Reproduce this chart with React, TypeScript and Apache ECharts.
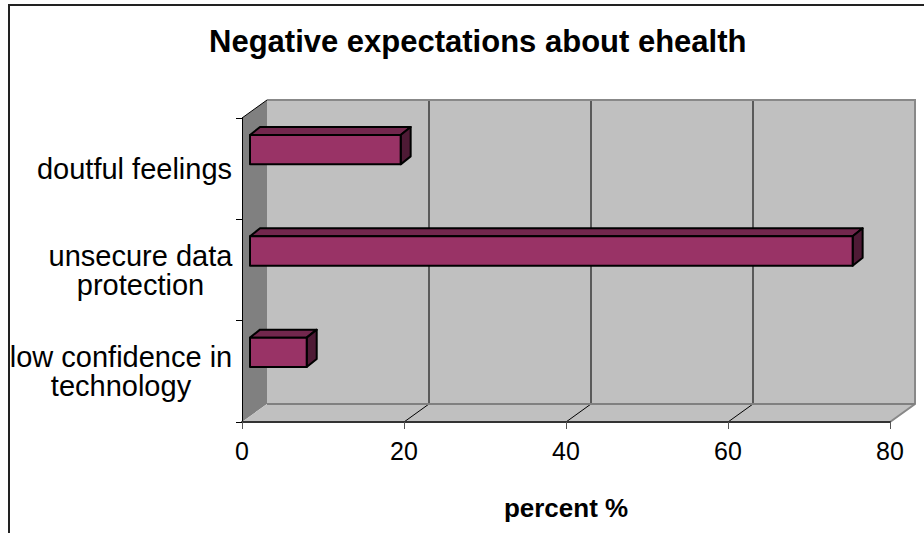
import React, { useEffect, useRef } from "react";
import * as echarts from "echarts";

// ---- data ----
const categories: string[] = [
  "low confidence in\ntechnology",
  "unsecure data\nprotection",
  "doutful feelings",
];
const values: number[] = [7.0, 74.4, 18.6];
const xMin = 0;
const xMax = 80;
const xInterval = 20;
const gridValues: number[] = [20, 40, 60];

const TITLE = "Negative expectations about ehealth";
const X_NAME = "percent %";

// ---- styles ----
const FONT = "'Liberation Sans', Arial, sans-serif";
const LABEL_SIZE = 29;
const TICK_SIZE = 25;
const DX = 25; // wall depth offset
const DY = -18;
const BAR_DX = 8;
const BAR_SHIFT_Y = -19;
const BAR_DEPTH_X = 10;
const BAR_DEPTH_Y = -8;
const BAR_FRAC = 0.29;

function measure(text: string, font: string): number {
  const c = document.createElement("canvas");
  const ctx = c.getContext("2d")!;
  ctx.font = font;
  return ctx.measureText(text).width;
}

export default function App() {
  const ref = useRef<HTMLDivElement>(null);

  useEffect(() => {
    document.body.style.margin = "0";
    if (!ref.current) return;
    const chart = echarts.init(ref.current, undefined, { renderer: "svg" });

    const rich: Record<string, any> = {};
    categories.forEach((c, i) => {
      const w = Math.max(
        ...c.split("\n").map((l) => measure(l, `${LABEL_SIZE}px 'Liberation Sans'`))
      );
      rich["c" + i] = {
        width: Math.ceil(w) + 1,
        align: "center",
        fontSize: LABEL_SIZE,
        fontFamily: FONT,
        color: "#000",
        lineHeight: 29,
      };
    });

    const renderWalls = (params: any, api: any) => {
      const band = api.size([0, 1])[1];
      const [x0, yc0] = api.coord([xMin, 0]);
      const x1 = api.coord([xMax, 0])[0];
      const yTop = api.coord([xMin, categories.length - 1])[1] - band / 2;
      const yBot = yc0 + band / 2;
      const children: any[] = [
        {
          type: "polygon",
          shape: { points: [[x0, yBot], [x0, yTop], [x0 + DX, yTop + DY], [x0 + DX, yBot + DY]] },
          style: { fill: "#808080" },
        },
        {
          type: "polygon",
          shape: { points: [[x0, yBot], [x1, yBot], [x1 + DX, yBot + DY], [x0 + DX, yBot + DY]] },
          style: { fill: "#c0c0c0" },
        },
        {
          type: "rect",
          shape: { x: x0 + DX, y: yTop + DY, width: x1 - x0, height: yBot - yTop },
          style: { fill: "#c0c0c0" },
        },
      ];
      gridValues.forEach((v) => {
        const gx = api.coord([v, 0])[0];
        children.push({
          type: "line",
          shape: { x1: gx + DX, y1: yTop + DY, x2: gx + DX, y2: yBot + DY },
          style: { stroke: "#5a5a5a", lineWidth: 2 },
        });
        children.push({
          type: "line",
          shape: { x1: gx, y1: yBot, x2: gx + DX, y2: yBot + DY },
          style: { stroke: "#000", lineWidth: 1 },
        });
      });
      children.push(
        {
          type: "polyline",
          shape: { points: [[x0 + DX, yTop + DY], [x1 + DX, yTop + DY], [x1 + DX, yBot + DY], [x1, yBot]] },
          style: { stroke: "#888", lineWidth: 2, fill: "none" },
        },
        {
          type: "line",
          shape: { x1: x0 + DX, y1: yBot + DY, x2: x1 + DX, y2: yBot + DY },
          style: { stroke: "#808080", lineWidth: 2 },
        },
        {
          type: "line",
          shape: { x1: x0, y1: yTop, x2: x0 + DX, y2: yTop + DY },
          style: { stroke: "#000", lineWidth: 1 },
        }
      );
      return { type: "group", children };
    };

    const renderBars = (params: any, api: any) => {
      const band = api.size([0, 1])[1];
      const cat = api.value(1);
      const [xs, yc] = api.coord([xMin, cat]);
      const xe = api.coord([api.value(0), cat])[0];
      const h = band * BAR_FRAC;
      const a = xs + BAR_DX;
      const b = xe + BAR_DX;
      const t = yc + BAR_SHIFT_Y - h / 2;
      const bt = t + h;
      const stroke = { stroke: "#000", lineWidth: 2, lineJoin: "round" };
      return {
        type: "group",
        children: [
          {
            type: "polygon",
            shape: { points: [[a, t], [b, t], [b + BAR_DEPTH_X, t + BAR_DEPTH_Y], [a + BAR_DEPTH_X, t + BAR_DEPTH_Y]] },
            style: { fill: "#72274d", ...stroke },
          },
          {
            type: "polygon",
            shape: { points: [[b, t], [b, bt], [b + BAR_DEPTH_X, bt + BAR_DEPTH_Y], [b + BAR_DEPTH_X, t + BAR_DEPTH_Y]] },
            style: { fill: "#4e1a35", ...stroke },
          },
          {
            type: "rect",
            shape: { x: a, y: t, width: b - a, height: h },
            style: { fill: "#993366", ...stroke },
          },
        ],
      };
    };

    chart.setOption({
      animation: false,
      backgroundColor: "#fff",
      title: {
        text: TITLE,
        left: 204,
        top: 21,
        textStyle: { fontFamily: FONT, fontWeight: "bold", fontSize: 31, color: "#000" },
      },
      grid: { left: 242, right: 34, top: 118, bottom: 111, containLabel: false },
      xAxis: {
        type: "value",
        min: xMin,
        max: xMax,
        interval: xInterval,
        z: 5,
        name: X_NAME,
        nameLocation: "middle",
        nameGap: 73,
        nameTextStyle: { fontFamily: FONT, fontWeight: "bold", fontSize: 26, color: "#000" },
        axisLine: { show: true, lineStyle: { color: "#333", width: 2 } },
        axisTick: { show: true, length: 7, lineStyle: { color: "#555", width: 1 } },
        axisLabel: { fontFamily: FONT, fontSize: TICK_SIZE, color: "#000", margin: 16 },
        splitLine: { show: false },
      },
      yAxis: {
        type: "category",
        data: categories,
        z: 5,
        axisLine: { show: true, lineStyle: { color: "#000", width: 1 } },
        axisTick: { show: true, length: 6, lineStyle: { color: "#000", width: 1 } },
        axisLabel: {
          margin: 9,
          align: "right",
          formatter: (v: string, i: number) =>
            v.split("\n").map((l) => `{c${i}|${l}}`).join("\n"),
          rich,
        },
        splitLine: { show: false },
      },
      graphic: [
        {
          type: "polyline",
          shape: { points: [[9, 533], [9, 5], [924, 5]] },
          style: { stroke: "#222", lineWidth: 2, fill: "none" },
          z: 10,
        },
      ],
      series: [
        {
          type: "custom",
          name: "walls",
          coordinateSystem: "cartesian2d",
          renderItem: renderWalls,
          data: [[0, 0]],
          z: 1,
          silent: true,
        },
        {
          type: "custom",
          name: "percent",
          coordinateSystem: "cartesian2d",
          renderItem: renderBars,
          encode: { x: 0, y: 1 },
          data: values.map((v, i) => [v, i]),
          z: 3,
        },
      ],
    });

    return () => chart.dispose();
  }, []);

  return <div ref={ref} style={{ width: 924, height: 533 }} />;
}
